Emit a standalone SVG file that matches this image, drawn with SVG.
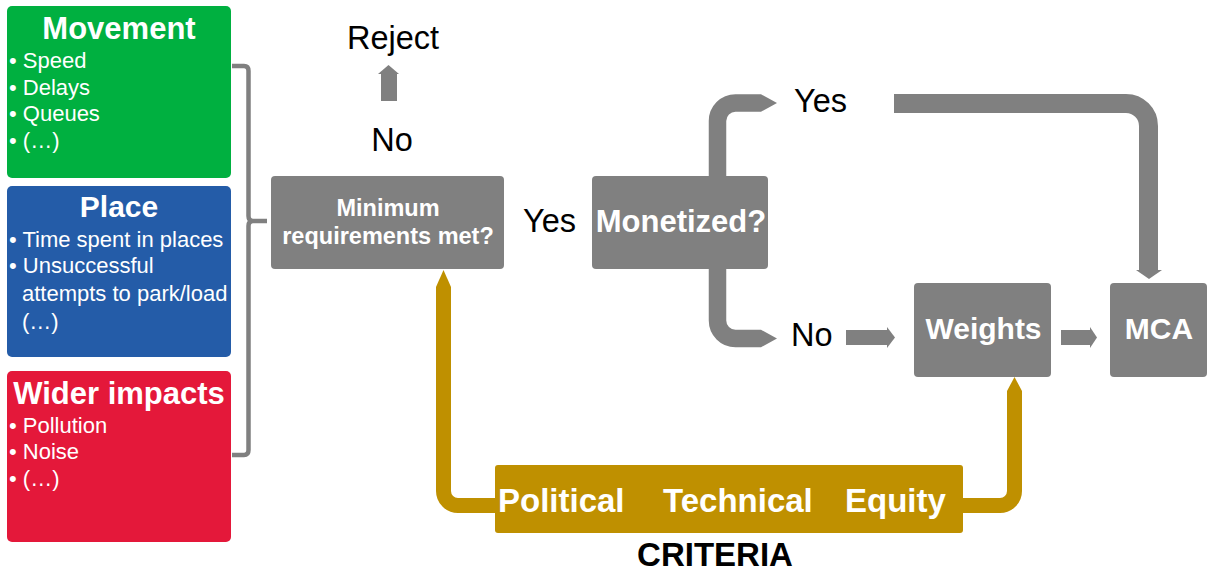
<svg xmlns="http://www.w3.org/2000/svg" width="1212" height="574" viewBox="0 0 1212 574">
<style>
.f{font-family:"Liberation Sans",Arial,sans-serif}
.item{font-family:"Liberation Sans",Arial,sans-serif;font-size:22px;fill:#fff}
.ttl{font-family:"Liberation Sans",Arial,sans-serif;font-weight:bold;fill:#fff;text-anchor:middle}
.lbl{font-family:"Liberation Sans",Arial,sans-serif;font-size:32.5px;fill:#000}
.gbox{fill:#808080}
.gc{fill:none;stroke:#808080;stroke-width:17.5}
.gh{fill:#808080}
.au{fill:none;stroke:#BF9000;stroke-width:15}
.ah{fill:#BF9000}
</style>
<rect width="1212" height="574" fill="#fff"/>
<g id="connectors">
  <path d="M232,66 H244 Q248.5,66 248.5,71 V216 Q248.5,221 253,221 H267 M253,221 Q248.5,221 248.5,226 V450 Q248.5,455 244,455 H232" fill="none" stroke="#808080" stroke-width="4.5"/>
  <rect x="381" y="73" width="16" height="28" class="gh"/>
  <polygon points="378,74 388.5,65 399,74" class="gh"/>
  <path class="gc" d="M717.5,176 V121 A18,18 0 0 1 735.5,103 H761"/>
  <polygon class="gh" points="761,94.25 777,103 761,111.75"/>
  <path class="gc" d="M717.5,269 V320.5 A18,18 0 0 0 735.5,338.5 H761"/>
  <polygon class="gh" points="761,329.75 777,338.5 761,347.25"/>
  <path class="gc" style="stroke-width:19" d="M894,103.5 H1126 A22.5,22.5 0 0 1 1148.5,126 V271"/>
  <polygon class="gh" points="1136,270 1162,270 1149,279"/>
  <rect x="846" y="330" width="41" height="15" class="gh"/>
  <polygon class="gh" points="887,327 895,337.5 887,348"/>
  <rect x="1061" y="330" width="29" height="15" class="gh"/>
  <polygon class="gh" points="1090,327 1097,337.5 1090,348"/>
  <path class="au" d="M443.5,287 V491 A14.5,14.5 0 0 0 458,505.5 H496"/>
  <polygon class="ah" points="436,287 443.5,270 451,287"/>
  <path class="au" d="M962,505.5 H1000 A14.5,14.5 0 0 0 1014.5,491 V391"/>
  <polygon class="ah" points="1007,391 1014.5,377 1022,391"/>
</g>
<g id="movement">
  <rect x="7" y="6" width="224" height="172" rx="5" fill="#00B040"/>
  <text class="ttl" x="119" y="39" font-size="31">Movement</text>
  <text class="item" x="9" y="68">• Speed</text>
  <text class="item" x="9" y="95">• Delays</text>
  <text class="item" x="9" y="121">• Queues</text>
  <text class="item" x="9" y="148">• (…)</text>
</g>
<g id="place">
  <rect x="7" y="186" width="224" height="171" rx="5" fill="#245CA8"/>
  <text class="ttl" x="119" y="217" font-size="30">Place</text>
  <text class="item" x="9" y="247">• Time spent in places</text>
  <text class="item" x="9" y="273">• Unsuccessful</text>
  <text class="item" x="22" y="301">attempts to park/load</text>
  <text class="item" x="22" y="329">(…)</text>
</g>
<g id="wider">
  <rect x="7" y="371" width="224" height="171" rx="5" fill="#E4183A"/>
  <text class="ttl" x="119" y="404" font-size="31">Wider impacts</text>
  <text class="item" x="9" y="433">• Pollution</text>
  <text class="item" x="9" y="459">• Noise</text>
  <text class="item" x="9" y="486">• (…)</text>
</g>
<g id="reject">
  <text class="lbl" x="393" y="49" text-anchor="middle" font-size="34">Reject</text>
</g>
<g id="labels">
  <text class="lbl" x="392" y="151" text-anchor="middle">No</text>
  <text class="lbl" x="523" y="232">Yes</text>
  <text class="lbl" x="794" y="112">Yes</text>
  <text class="lbl" x="791" y="346">No</text>
</g>
<g id="minreq">
  <rect x="271" y="176" width="233" height="93" rx="4" class="gbox"/>
  <text class="ttl" x="388" y="216" font-size="23.5">Minimum</text>
  <text class="ttl" x="388" y="244" font-size="23.5">requirements met?</text>
</g>
<g id="monetized">
  <rect x="592" y="176" width="176" height="93" rx="4" class="gbox"/>
  <text class="ttl" x="681" y="232" font-size="31">Monetized?</text>
</g>
<g id="weights">
  <rect x="914" y="283" width="137" height="94" rx="4" class="gbox"/>
  <text class="ttl" x="983.5" y="339" font-size="30">Weights</text>
</g>
<g id="mca">
  <rect x="1110" y="283" width="97" height="94" rx="4" class="gbox"/>
  <text class="ttl" x="1159" y="339" font-size="30">MCA</text>
</g>
<g id="criteria">
  <rect x="495" y="465" width="468" height="68" rx="3" fill="#BF9000"/>
  <text class="f" x="498" y="512" font-size="33" font-weight="bold" fill="#fff">Political</text>
  <text class="f" x="663" y="512" font-size="33" font-weight="bold" fill="#fff">Technical</text>
  <text class="f" x="845" y="512" font-size="33" font-weight="bold" fill="#fff">Equity</text>
  <text class="f" x="715" y="566" font-size="33" font-weight="bold" fill="#000" text-anchor="middle">CRITERIA</text>
</g>
</svg>
